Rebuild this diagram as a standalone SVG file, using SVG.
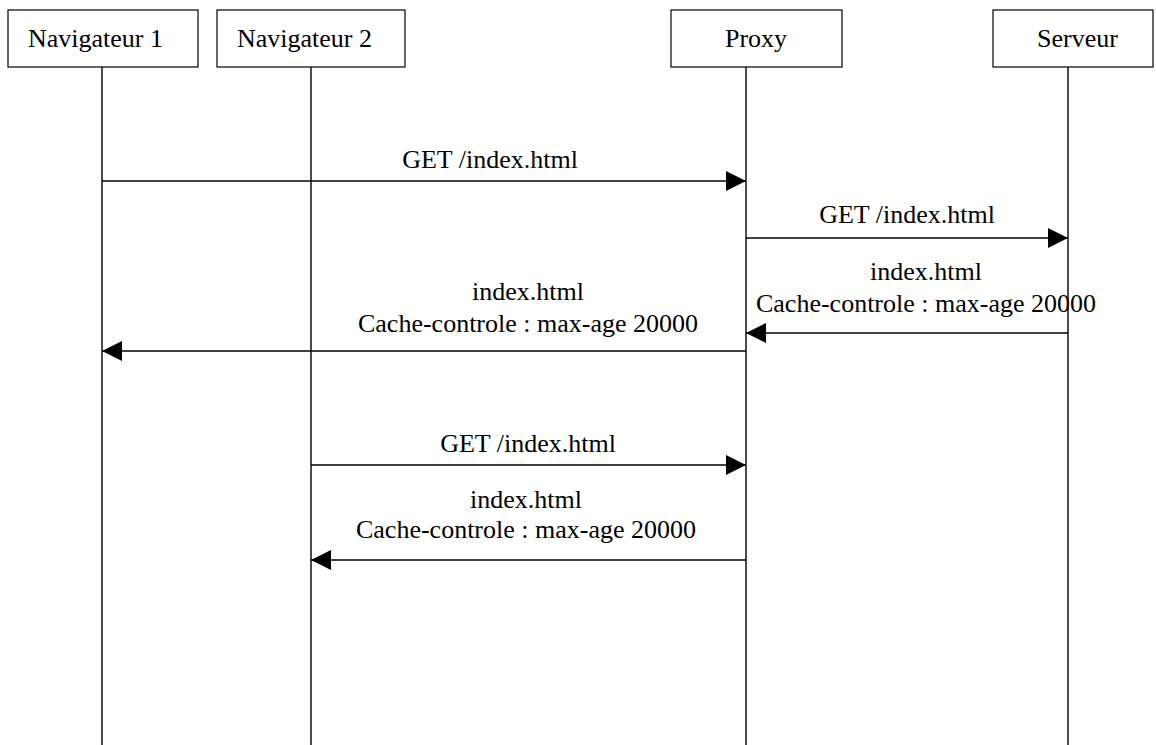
<svg xmlns="http://www.w3.org/2000/svg" width="1156" height="745" viewBox="0 0 1156 745">
  <defs>
    <style>
      .box { fill: #ffffff; stroke: #000000; stroke-width: 1.2; }
      .life { stroke: #000000; stroke-width: 1.4; fill: none; }
      .msg { stroke: #000000; stroke-width: 1.4; fill: none; marker-end: url(#head); }
      text { font-family: "Liberation Serif", "Times New Roman", serif; font-size: 26px; fill: #000000; }
      .lbl { text-anchor: middle; }
    </style>
    <marker id="head" markerUnits="userSpaceOnUse" markerWidth="20" markerHeight="20" refX="20" refY="10" orient="auto">
      <path d="M0,0 L20,10 L0,20 Z" fill="#000000"/>
    </marker>
  </defs>
  <rect width="1156" height="745" fill="#ffffff"/>

  <!-- participants with their lifelines -->
  <g id="navigateur1">
    <rect class="box" x="8" y="10" width="190" height="57"/>
    <text x="28" y="47">Navigateur 1</text>
    <line class="life" x1="102" y1="67" x2="102" y2="745"/>
  </g>
  <g id="navigateur2">
    <rect class="box" x="217" y="10" width="188" height="57"/>
    <text x="237" y="47">Navigateur 2</text>
    <line class="life" x1="311" y1="67" x2="311" y2="745"/>
  </g>
  <g id="proxy">
    <rect class="box" x="671" y="10" width="171" height="57"/>
    <text x="725" y="47">Proxy</text>
    <line class="life" x1="746" y1="67" x2="746" y2="745"/>
  </g>
  <g id="serveur">
    <rect class="box" x="993" y="10" width="160" height="57"/>
    <text x="1037" y="47">Serveur</text>
    <line class="life" x1="1068" y1="67" x2="1068" y2="745"/>
  </g>

  <!-- messages -->
  <g id="connectors">
    <line class="msg" x1="102" y1="181" x2="746" y2="181"/>
    <text class="lbl" x="490" y="168">GET /index.html</text>

    <line class="msg" x1="746" y1="238" x2="1068" y2="238"/>
    <text class="lbl" x="907" y="223">GET /index.html</text>

    <line class="msg" x1="1068" y1="333" x2="746" y2="333"/>
    <text class="lbl" x="926" y="280">index.html</text>
    <text class="lbl" x="926" y="312">Cache-controle : max-age 20000</text>

    <line class="msg" x1="746" y1="351" x2="102" y2="351"/>
    <text class="lbl" x="528" y="300">index.html</text>
    <text class="lbl" x="528" y="332">Cache-controle : max-age 20000</text>

    <line class="msg" x1="311" y1="465" x2="746" y2="465"/>
    <text class="lbl" x="528" y="452">GET /index.html</text>

    <line class="msg" x1="746" y1="560" x2="311" y2="560"/>
    <text class="lbl" x="526" y="508">index.html</text>
    <text class="lbl" x="526" y="538">Cache-controle : max-age 20000</text>
  </g>
</svg>
